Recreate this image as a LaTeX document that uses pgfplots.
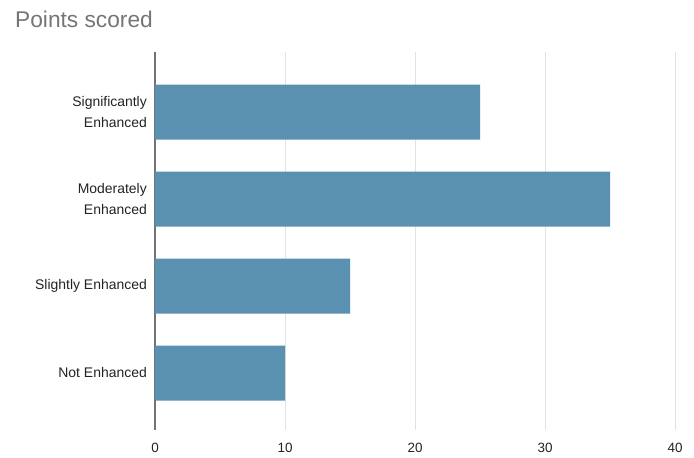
\documentclass[border=0pt]{standalone}
\usepackage{fontspec}
\setmainfont{Liberation Sans}
\usepackage{pgfplots}
\pgfplotsset{compat=1.18}
\definecolor{barblue}{HTML}{5B91B0}
\definecolor{gridgray}{HTML}{E2E2E2}
\definecolor{titlegray}{HTML}{757575}
\definecolor{labeldark}{HTML}{222222}
\begin{document}
\begin{tikzpicture}[x=1bp,y=1bp]
\path[use as bounding box] (-155,-28) rectangle (539,430);
\begin{axis}[
    at={(0,0)}, anchor=south west,
    scale only axis,
    width=520bp, height=378bp,
    xbar,
    bar width=55bp,
    xmin=0, xmax=40,
    ymin=-0.655, ymax=3.69,
    xtick={0,10,20,30,40},
    ytick={0,1,2,3},
    yticklabels={Not Enhanced, Slightly Enhanced, {Moderately\\Enhanced}, {Significantly\\Enhanced}},
    major tick length=0pt,
    xmajorgrids,
    grid style={gridgray, line width=1bp},
    axis x line*=bottom,
    axis y line*=left,
    x axis line style={draw=none},
    y axis line style={draw=black!55, line width=1.2bp, -},
    xticklabel style={font=\fontsize{13.5}{16}\selectfont, text=labeldark, inner sep=0pt, yshift=-13bp},
    yticklabel style={font=\fontsize{14}{21}\selectfont, text=labeldark, align=right, inner sep=0pt, xshift=-8bp},
    /pgf/number format/assume math mode=true,
    clip=false,
]
\addplot[draw=none, fill=barblue] coordinates {(10,0) (15,1) (35,2) (25,3)};
\end{axis}
\node[anchor=base west, inner sep=0pt, text=titlegray, font=\fontsize{22.8}{27}\selectfont] at (-140,402) {Points scored};
\end{tikzpicture}
\end{document}
